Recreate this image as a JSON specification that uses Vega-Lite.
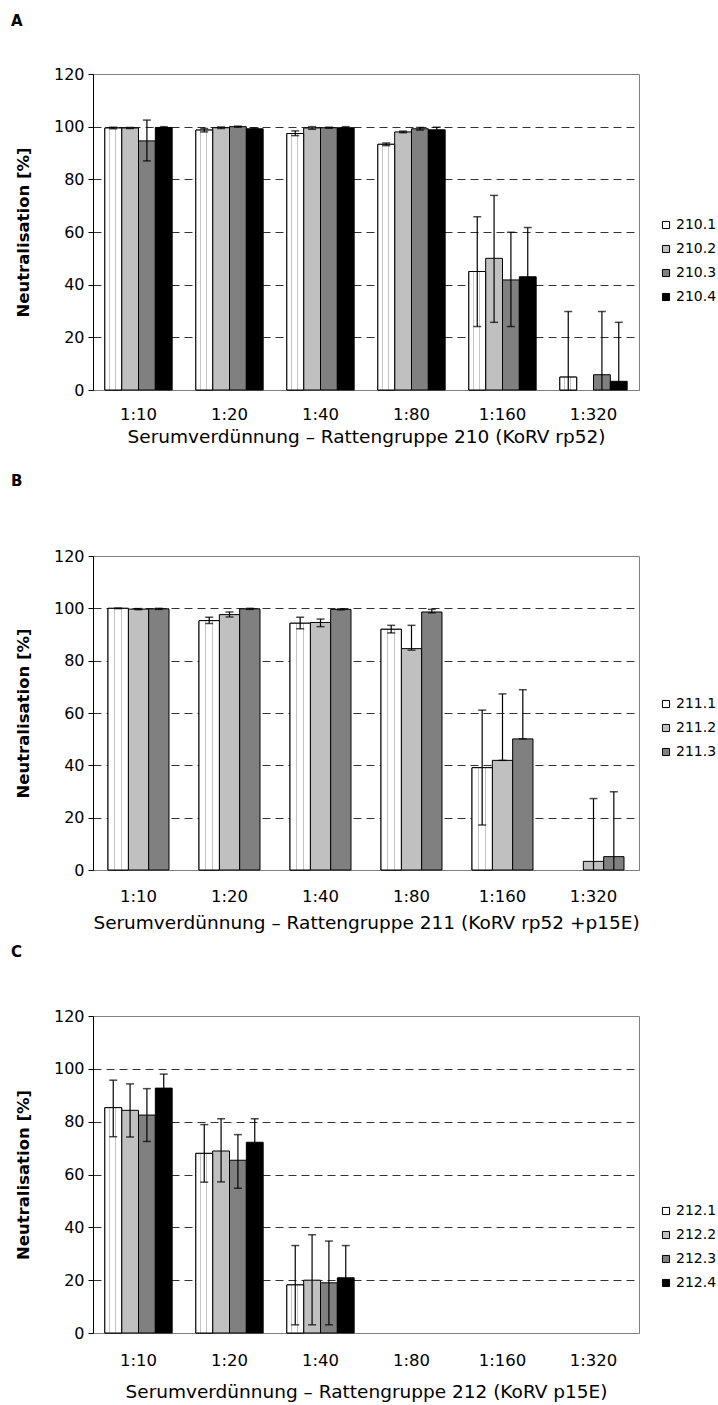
{
  "$schema": "https://vega.github.io/schema/vega-lite/v6.json",
  "background": "white",
  "padding": {"left": 10, "top": 13, "right": 0, "bottom": 0},
  "config": {
    "font": "DejaVu Sans",
    "view": {"stroke": "#808080", "strokeWidth": 1},
    "title": {"anchor": "start", "frame": "group", "fontSize": 15, "fontWeight": "bold", "color": "black", "dx": -82},
    "axisX": {"labelAngle": 0, "ticks": false, "domainColor": "#808080", "labelFontSize": 16.5, "labelPadding": 16, "labelColor": "black", "titleFontSize": 18.5, "titleFontWeight": "normal", "titlePadding": 6, "titleColor": "black", "grid": false},
    "axisY": {"values": [0, 20, 40, 60, 80, 100, 120], "grid": true, "gridDash": [8, 5], "domainColor": "black", "tickColor": "black", "tickSize": 5, "labelFontSize": 16, "labelColor": "black", "labelPadding": 4, "titleFontSize": 16.5, "titleFontWeight": "bold", "titlePadding": 22, "titleColor": "black"},
    "legend": {"title": null, "orient": "none", "symbolType": "square", "symbolSize": 50, "symbolStrokeColor": "black", "symbolStrokeWidth": 1, "labelFontSize": 14, "labelColor": "black", "rowPadding": 10, "labelOffset": 3, "padding": 0}
  },
  "bounds": "flush",
  "spacing": 166,
  "resolve": {"scale": {"x": "independent", "y": "independent", "color": "independent", "xOffset": "independent"}, "legend": {"color": "independent"}, "axis": {"x": "independent", "y": "independent"}},
  "vconcat": [
    {
      "title": {"text": "A", "offset": 37},
      "width": 546,
      "height": 316,
      "data": {"values": [
        {"dil": "1:10", "serum": "210.1", "value": 99.5, "lo": 99.2, "hi": 99.8},
        {"dil": "1:10", "serum": "210.2", "value": 99.5, "lo": 99.3, "hi": 99.7},
        {"dil": "1:10", "serum": "210.3", "value": 94.6, "lo": 87.0, "hi": 102.5},
        {"dil": "1:10", "serum": "210.4", "value": 99.7, "lo": 99.4, "hi": 100.0},
        {"dil": "1:20", "serum": "210.1", "value": 98.7, "lo": 98.0, "hi": 99.3},
        {"dil": "1:20", "serum": "210.2", "value": 99.6, "lo": 99.3, "hi": 99.9},
        {"dil": "1:20", "serum": "210.3", "value": 100.0, "lo": 99.8, "hi": 100.2},
        {"dil": "1:20", "serum": "210.4", "value": 99.2, "lo": 98.9, "hi": 99.5},
        {"dil": "1:40", "serum": "210.1", "value": 97.4, "lo": 96.6, "hi": 98.4},
        {"dil": "1:40", "serum": "210.2", "value": 99.5, "lo": 99.0, "hi": 100.0},
        {"dil": "1:40", "serum": "210.3", "value": 99.6, "lo": 99.4, "hi": 99.8},
        {"dil": "1:40", "serum": "210.4", "value": 99.6, "lo": 99.2, "hi": 100.0},
        {"dil": "1:80", "serum": "210.1", "value": 93.3, "lo": 92.8, "hi": 93.8},
        {"dil": "1:80", "serum": "210.2", "value": 98.0, "lo": 97.7, "hi": 98.3},
        {"dil": "1:80", "serum": "210.3", "value": 99.2, "lo": 98.7, "hi": 99.7},
        {"dil": "1:80", "serum": "210.4", "value": 98.8, "lo": 97.8, "hi": 99.8},
        {"dil": "1:160", "serum": "210.1", "value": 45.0, "lo": 24.1, "hi": 65.8},
        {"dil": "1:160", "serum": "210.2", "value": 50.0, "lo": 25.7, "hi": 73.9},
        {"dil": "1:160", "serum": "210.3", "value": 41.8, "lo": 24.1, "hi": 59.9},
        {"dil": "1:160", "serum": "210.4", "value": 43.0, "lo": 24.3, "hi": 61.7},
        {"dil": "1:320", "serum": "210.1", "value": 4.9, "lo": -20.0, "hi": 29.8},
        {"dil": "1:320", "serum": "210.3", "value": 5.8, "lo": -18.2, "hi": 29.8},
        {"dil": "1:320", "serum": "210.4", "value": 3.3, "lo": -19.1, "hi": 25.7}
      ]},
      "encoding": {
        "x": {"field": "dil", "type": "nominal", "title": "Serumverdünnung – Rattengruppe 210 (KoRV rp52)", "sort": ["1:10", "1:20", "1:40", "1:80", "1:160", "1:320"], "scale": {"domain": ["1:10", "1:20", "1:40", "1:80", "1:160", "1:320"], "paddingInner": 0.26, "paddingOuter": 0.13}, "axis": {"titlePadding": 5}},
        "xOffset": {"field": "serum", "type": "nominal", "scale": {"domain": ["210.1", "210.2", "210.3", "210.4"], "paddingInner": 0, "paddingOuter": 0}}
      },
      "layer": [
        {"mark": {"type": "bar", "stroke": "black", "strokeWidth": 1},
         "encoding": {
           "y": {"field": "value", "type": "quantitative", "title": "Neutralisation [%]", "scale": {"domain": [0, 120]}, "axis": {"gridColor": {"condition": {"test": "datum.value >= 120 || datum.value <= 0", "value": "transparent"}, "value": "#333333"}}},
           "color": {"field": "serum", "type": "nominal", "scale": {"domain": ["210.1", "210.2", "210.3", "210.4"], "range": ["#ffffff", "#c0c0c0", "#808080", "#000000"]}, "legend": {"legendX": 566, "legendY": 144, "symbolStrokeColor": "black"}}
         }},
        {"transform": [{"filter": "datum.serum == '210.1'"}],
         "mark": {"type": "bar", "stroke": "black", "strokeWidth": 1, "fill": {"gradient": "linear", "x1": 0, "y1": 0, "x2": 1, "y2": 0, "stops": [{"offset": 0, "color": "#ffffff"}, {"offset": 0.27, "color": "#ffffff"}, {"offset": 0.27, "color": "#c4c4c4"}, {"offset": 0.33, "color": "#c4c4c4"}, {"offset": 0.33, "color": "#ffffff"}, {"offset": 0.62, "color": "#ffffff"}, {"offset": 0.62, "color": "#c4c4c4"}, {"offset": 0.68, "color": "#c4c4c4"}, {"offset": 0.68, "color": "#ffffff"}, {"offset": 1, "color": "#ffffff"}]}},
         "encoding": {"y": {"field": "value", "type": "quantitative", "title": "Neutralisation [%]"}}},
        {"mark": {"type": "rule", "clip": true, "color": "black", "strokeWidth": 1.2},
         "encoding": {"y": {"field": "lo", "type": "quantitative", "title": "Neutralisation [%]"}, "y2": {"field": "hi"}}},
        {"mark": {"type": "tick", "clip": true, "color": "black", "size": 8, "thickness": 1.5},
         "encoding": {"y": {"field": "lo", "type": "quantitative", "title": "Neutralisation [%]"}}},
        {"mark": {"type": "tick", "clip": true, "color": "black", "size": 8, "thickness": 1.5},
         "encoding": {"y": {"field": "hi", "type": "quantitative", "title": "Neutralisation [%]"}}}
      ]
    },
    {
      "bounds": "flush",
      "spacing": 146,
      "resolve": {"scale": {"x": "independent", "y": "independent", "color": "independent", "xOffset": "independent"}, "legend": {"color": "independent"}, "axis": {"x": "independent", "y": "independent"}},
      "vconcat": [
        {
          "title": {"text": "B", "offset": 59},
          "width": 546,
          "height": 314,
          "data": {"values": [
            {"dil": "1:10", "serum": "211.1", "value": 100.0, "lo": 99.9, "hi": 100.1},
            {"dil": "1:10", "serum": "211.2", "value": 99.7, "lo": 99.5, "hi": 99.9},
            {"dil": "1:10", "serum": "211.3", "value": 99.8, "lo": 99.6, "hi": 100.0},
            {"dil": "1:20", "serum": "211.1", "value": 95.3, "lo": 94.2, "hi": 96.6},
            {"dil": "1:20", "serum": "211.2", "value": 97.6, "lo": 96.7, "hi": 98.6},
            {"dil": "1:20", "serum": "211.3", "value": 99.8, "lo": 99.6, "hi": 100.0},
            {"dil": "1:40", "serum": "211.1", "value": 94.3, "lo": 92.2, "hi": 96.6},
            {"dil": "1:40", "serum": "211.2", "value": 94.6, "lo": 93.0, "hi": 95.9},
            {"dil": "1:40", "serum": "211.3", "value": 99.6, "lo": 99.4, "hi": 99.8},
            {"dil": "1:80", "serum": "211.1", "value": 92.0, "lo": 90.6, "hi": 93.5},
            {"dil": "1:80", "serum": "211.2", "value": 84.6, "lo": 84.0, "hi": 93.5},
            {"dil": "1:80", "serum": "211.3", "value": 98.6, "lo": 98.3, "hi": 99.6},
            {"dil": "1:160", "serum": "211.1", "value": 39.1, "lo": 17.2, "hi": 61.1},
            {"dil": "1:160", "serum": "211.2", "value": 41.9, "lo": 41.9, "hi": 67.3},
            {"dil": "1:160", "serum": "211.3", "value": 50.1, "lo": 50.1, "hi": 68.9},
            {"dil": "1:320", "serum": "211.2", "value": 3.3, "lo": -20.7, "hi": 27.3},
            {"dil": "1:320", "serum": "211.3", "value": 5.1, "lo": -19.7, "hi": 29.9}
          ]},
          "encoding": {
            "x": {"field": "dil", "type": "nominal", "title": "Serumverdünnung – Rattengruppe 211 (KoRV rp52 +p15E)", "sort": ["1:10", "1:20", "1:40", "1:80", "1:160", "1:320"], "scale": {"domain": ["1:10", "1:20", "1:40", "1:80", "1:160", "1:320"], "paddingInner": 0.33, "paddingOuter": 0.165}, "axis": {"labelPadding": 18, "titlePadding": 9}},
            "xOffset": {"field": "serum", "type": "nominal", "scale": {"domain": ["211.1", "211.2", "211.3"], "paddingInner": 0, "paddingOuter": 0}}
          },
          "layer": [
            {"mark": {"type": "bar", "stroke": "black", "strokeWidth": 1},
             "encoding": {
               "y": {"field": "value", "type": "quantitative", "title": "Neutralisation [%]", "scale": {"domain": [0, 120]}, "axis": {"gridColor": {"condition": {"test": "datum.value >= 120 || datum.value <= 0", "value": "transparent"}, "value": "#333333"}}},
               "color": {"field": "serum", "type": "nominal", "scale": {"domain": ["211.1", "211.2", "211.3"], "range": ["#ffffff", "#c0c0c0", "#808080"]}, "legend": {"legendX": 566, "legendY": 141, "symbolStrokeColor": "black"}}
             }},
            {"transform": [{"filter": "datum.serum == '211.1'"}],
             "mark": {"type": "bar", "stroke": "black", "strokeWidth": 1, "fill": {"gradient": "linear", "x1": 0, "y1": 0, "x2": 1, "y2": 0, "stops": [{"offset": 0, "color": "#ffffff"}, {"offset": 0.28, "color": "#ffffff"}, {"offset": 0.28, "color": "#c4c4c4"}, {"offset": 0.33, "color": "#c4c4c4"}, {"offset": 0.33, "color": "#ffffff"}, {"offset": 0.63, "color": "#ffffff"}, {"offset": 0.63, "color": "#c4c4c4"}, {"offset": 0.68, "color": "#c4c4c4"}, {"offset": 0.68, "color": "#ffffff"}, {"offset": 1, "color": "#ffffff"}]}},
             "encoding": {"y": {"field": "value", "type": "quantitative", "title": "Neutralisation [%]"}}},
            {"mark": {"type": "rule", "clip": true, "color": "black", "strokeWidth": 1.2},
             "encoding": {"y": {"field": "lo", "type": "quantitative", "title": "Neutralisation [%]"}, "y2": {"field": "hi"}}},
            {"mark": {"type": "tick", "clip": true, "color": "black", "size": 8, "thickness": 1.5},
             "encoding": {"y": {"field": "lo", "type": "quantitative", "title": "Neutralisation [%]"}}},
            {"mark": {"type": "tick", "clip": true, "color": "black", "size": 8, "thickness": 1.5},
             "encoding": {"y": {"field": "hi", "type": "quantitative", "title": "Neutralisation [%]"}}}
          ]
        },
        {
          "title": {"text": "C", "offset": 48},
          "width": 546,
          "height": 317,
          "data": {"values": [
            {"dil": "1:10", "serum": "212.1", "value": 85.3, "lo": 74.3, "hi": 95.7},
            {"dil": "1:10", "serum": "212.2", "value": 84.3, "lo": 74.2, "hi": 94.3},
            {"dil": "1:10", "serum": "212.3", "value": 82.5, "lo": 72.5, "hi": 92.5},
            {"dil": "1:10", "serum": "212.4", "value": 92.7, "lo": 87.4, "hi": 98.0},
            {"dil": "1:20", "serum": "212.1", "value": 68.0, "lo": 57.1, "hi": 78.9},
            {"dil": "1:20", "serum": "212.2", "value": 68.9, "lo": 57.2, "hi": 81.1},
            {"dil": "1:20", "serum": "212.3", "value": 65.4, "lo": 54.8, "hi": 75.1},
            {"dil": "1:20", "serum": "212.4", "value": 72.2, "lo": 63.3, "hi": 81.1},
            {"dil": "1:40", "serum": "212.1", "value": 18.2, "lo": 3.1, "hi": 33.1},
            {"dil": "1:40", "serum": "212.2", "value": 20.0, "lo": 3.1, "hi": 37.2},
            {"dil": "1:40", "serum": "212.3", "value": 19.0, "lo": 3.1, "hi": 34.8},
            {"dil": "1:40", "serum": "212.4", "value": 20.9, "lo": 8.7, "hi": 33.1}
          ]},
          "encoding": {
            "x": {"field": "dil", "type": "nominal", "title": "Serumverdünnung – Rattengruppe 212 (KoRV p15E)", "sort": ["1:10", "1:20", "1:40", "1:80", "1:160", "1:320"], "scale": {"domain": ["1:10", "1:20", "1:40", "1:80", "1:160", "1:320"], "paddingInner": 0.26, "paddingOuter": 0.13}, "axis": {"labelPadding": 19, "titlePadding": 14}},
            "xOffset": {"field": "serum", "type": "nominal", "scale": {"domain": ["212.1", "212.2", "212.3", "212.4"], "paddingInner": 0, "paddingOuter": 0}}
          },
          "layer": [
            {"mark": {"type": "bar", "stroke": "black", "strokeWidth": 1},
             "encoding": {
               "y": {"field": "value", "type": "quantitative", "title": "Neutralisation [%]", "scale": {"domain": [0, 120]}, "axis": {"gridColor": {"condition": {"test": "datum.value >= 120 || datum.value <= 0", "value": "transparent"}, "value": "#333333"}}},
               "color": {"field": "serum", "type": "nominal", "scale": {"domain": ["212.1", "212.2", "212.3", "212.4"], "range": ["#ffffff", "#c0c0c0", "#808080", "#000000"]}, "legend": {"legendX": 566, "legendY": 188, "symbolStrokeColor": "black"}}
             }},
            {"transform": [{"filter": "datum.serum == '212.1'"}],
             "mark": {"type": "bar", "stroke": "black", "strokeWidth": 1, "fill": {"gradient": "linear", "x1": 0, "y1": 0, "x2": 1, "y2": 0, "stops": [{"offset": 0, "color": "#ffffff"}, {"offset": 0.27, "color": "#ffffff"}, {"offset": 0.27, "color": "#c4c4c4"}, {"offset": 0.33, "color": "#c4c4c4"}, {"offset": 0.33, "color": "#ffffff"}, {"offset": 0.62, "color": "#ffffff"}, {"offset": 0.62, "color": "#c4c4c4"}, {"offset": 0.68, "color": "#c4c4c4"}, {"offset": 0.68, "color": "#ffffff"}, {"offset": 1, "color": "#ffffff"}]}},
             "encoding": {"y": {"field": "value", "type": "quantitative", "title": "Neutralisation [%]"}}},
            {"mark": {"type": "rule", "clip": true, "color": "black", "strokeWidth": 1.2},
             "encoding": {"y": {"field": "lo", "type": "quantitative", "title": "Neutralisation [%]"}, "y2": {"field": "hi"}}},
            {"mark": {"type": "tick", "clip": true, "color": "black", "size": 8, "thickness": 1.5},
             "encoding": {"y": {"field": "lo", "type": "quantitative", "title": "Neutralisation [%]"}}},
            {"mark": {"type": "tick", "clip": true, "color": "black", "size": 8, "thickness": 1.5},
             "encoding": {"y": {"field": "hi", "type": "quantitative", "title": "Neutralisation [%]"}}}
          ]
        }
      ]
    }
  ]
}
